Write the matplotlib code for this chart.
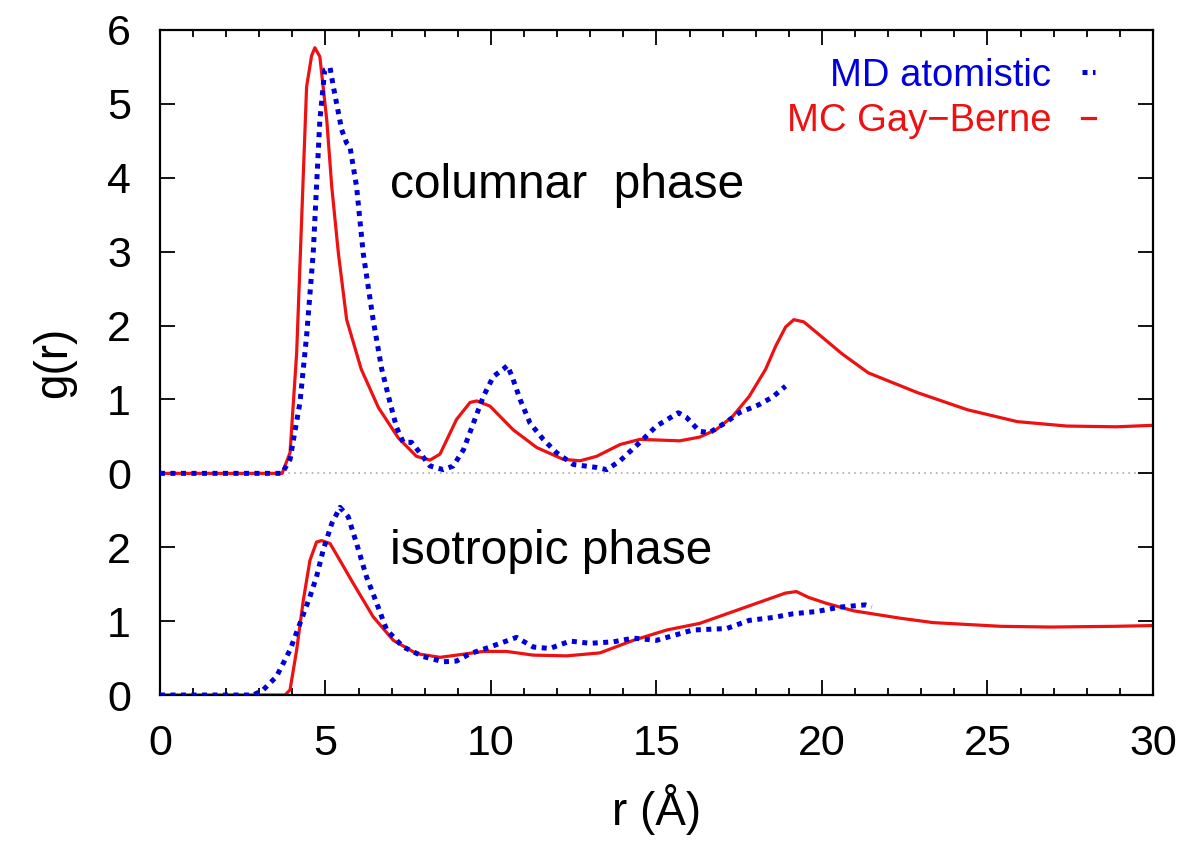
import matplotlib
matplotlib.use("Agg")
import matplotlib.pyplot as plt
import numpy as np

plt.rcParams['font.family'] = ['Liberation Sans', 'DejaVu Sans']

# columnar phase (top panel)
r_md_col = [0, 3.69, 3.93, 4.23, 4.43, 4.63, 4.73, 4.83, 4.98, 5.14, 5.24, 5.49, 5.64, 5.74,
            5.94, 6.14, 6.44, 6.7, 6.95, 7.15, 7.35, 7.6, 7.85, 8.16, 8.56, 8.86, 9.17, 9.47,
            9.77, 10.07, 10.37, 10.5, 10.67, 10.88, 11.18, 11.58, 11.98, 12.49, 13.19, 13.5,
            13.9, 14.5, 15.0, 15.66, 15.9, 16.3, 16.6, 17.1, 17.5, 18.1, 18.5, 18.9]
g_md_col = [0, 0, 0.19, 0.96, 1.86, 2.98, 3.88, 4.78, 5.46, 5.49, 5.23, 4.65, 4.47, 4.42,
            3.88, 2.98, 2.08, 1.41, 0.96, 0.62, 0.42, 0.42, 0.28, 0.10, 0.05, 0.10, 0.32, 0.68,
            1.04, 1.31, 1.41, 1.46, 1.27, 1.0, 0.68, 0.46, 0.28, 0.12, 0.08, 0.05,
            0.17, 0.42, 0.64, 0.82, 0.76, 0.57, 0.55, 0.69, 0.82, 0.93, 1.03, 1.18]

r_gb_col = [0, 3.69, 3.93, 4.13, 4.28, 4.43, 4.58, 4.68, 4.83, 5.04, 5.19, 5.39, 5.64, 6.08,
            6.6, 7.2, 7.75, 8.16, 8.46, 8.96, 9.37, 9.57, 9.97, 10.67, 11.38, 12.18, 12.69,
            13.19, 13.9, 14.5, 15.1, 15.7, 16.3, 16.8, 17.3, 17.8, 18.3, 18.6, 18.9, 19.15,
            19.45, 19.8, 20.6, 21.4, 22.9, 24.4, 25.9, 27.4, 28.9, 30]
g_gb_col = [0, 0, 0.28, 1.63, 3.43, 5.23, 5.65, 5.76, 5.64, 4.78, 3.88, 2.98, 2.08, 1.41,
            0.89, 0.48, 0.23, 0.18, 0.26, 0.73, 0.96, 0.98, 0.91, 0.59, 0.35, 0.19, 0.17,
            0.23, 0.39, 0.46, 0.45, 0.44, 0.49, 0.59, 0.77, 1.04, 1.41, 1.72, 1.98, 2.08,
            2.05, 1.92, 1.62, 1.36, 1.09, 0.86, 0.70, 0.64, 0.63, 0.65]

# isotropic phase (bottom panel)
r_md_iso = [0, 2.82, 3.12, 3.52, 3.93, 4.23, 4.53, 4.73, 4.93, 5.19, 5.44, 5.69, 5.94, 6.24,
            6.55, 6.85, 7.35, 7.96, 8.56, 8.96, 9.37, 9.97, 10.77, 11.28, 11.78, 12.39, 12.99,
            13.7, 14.3, 15.0, 16.1, 17.12, 17.8, 18.53, 19.13, 19.84, 20.54, 21.3, 21.5]
g_md_iso = [0, 0, 0.07, 0.25, 0.61, 0.97, 1.33, 1.60, 1.96, 2.32, 2.54, 2.41, 2.05, 1.60,
            1.24, 0.88, 0.65, 0.52, 0.45, 0.46, 0.56, 0.65, 0.78, 0.65, 0.63, 0.73, 0.70,
            0.72, 0.77, 0.74, 0.88, 0.90, 1.01, 1.05, 1.10, 1.13, 1.19, 1.22, 1.19]

r_gb_iso = [0, 3.78, 3.93, 4.13, 4.33, 4.53, 4.73, 4.88, 5.14, 5.44, 5.84, 6.44, 7.05, 7.75,
            8.46, 8.96, 9.77, 10.47, 11.28, 12.29, 13.29, 14.3, 15.31, 16.31, 17.32, 18.33,
            18.9, 19.23, 19.6, 20.14, 20.95, 22.36, 23.36, 25.4, 26.9, 28.85, 30]
g_gb_iso = [0, 0, 0.07, 0.61, 1.28, 1.82, 2.07, 2.09, 2.05, 1.82, 1.51, 1.06, 0.74, 0.56,
            0.51, 0.54, 0.59, 0.59, 0.54, 0.53, 0.57, 0.74, 0.88, 0.97, 1.13, 1.29,
            1.38, 1.40, 1.32, 1.24, 1.14, 1.04, 0.98, 0.93, 0.92, 0.93, 0.94]

shift = 3  # isotropic curves are stacked below the columnar ones
ytick_pos = [-3, -2, -1, 0, 1, 2, 3, 4, 5, 6]
ytick_lab = ['0', '1', '2', '0', '1', '2', '3', '4', '5', '6']

fig = plt.figure(figsize=(12, 8.57), dpi=100)
ax = fig.add_axes([0.1333, 0.189, 0.8275, 0.776])

ax.axhline(0, color='#aaaaaa', lw=1.2, ls=(0, (1, 2.5)), zorder=1)

red = '#ee1111'
blue = '#0000dd'
gb, = ax.plot(r_gb_col, g_gb_col, color=red, lw=2.3, zorder=2,
              solid_joinstyle='round', label='MC Gay\u2212Berne')
ax.plot(r_gb_iso, np.array(g_gb_iso) - shift, color=red, lw=2.3, zorder=2,
        solid_joinstyle='round')
md, = ax.plot(r_md_col, g_md_col, color=blue, lw=3.6, ls=(0, (1, 1.1)),
              dash_capstyle='butt', zorder=3, label='MD atomistic')
ax.plot(r_md_iso, np.array(g_md_iso) - shift, color=blue, lw=3.6, ls=(0, (1, 1.1)),
        dash_capstyle='butt', zorder=3)

ax.set_xlim(0, 30)
ax.set_ylim(-3, 6)
ax.set_xticks(range(0, 31, 5))
ax.set_xticks(range(0, 31), minor=True)
ax.set_yticks(ytick_pos)
ax.set_yticklabels(ytick_lab)
ax.tick_params(which='both', direction='in', top=True, right=True, labelsize=31,
               width=1.3, pad=21)
ax.tick_params(which='major', length=11)
ax.tick_params(which='minor', length=5)
for s in ax.spines.values():
    s.set_linewidth(1.6)

ax.set_xlabel('r (\u00c5)', fontsize=33, labelpad=14)
ax.set_ylabel('g(r)', fontsize=33, labelpad=22)

ax.text(6.95, 3.9, 'columnar  phase', fontsize=34.5, va='center', ha='left')
ax.text(6.95, -1.06, 'isotropic phase', fontsize=34.5, va='center', ha='left')

leg = ax.legend(handles=[md, gb], loc='upper right', frameon=False, fontsize=27.5,
                markerfirst=False, handlelength=0.35, handletextpad=0.8,
                labelcolor='linecolor', borderaxespad=0, borderpad=0,
                labelspacing=0.25, bbox_to_anchor=(0.9416, 0.9585))

fig.savefig('out.png', dpi=100)
